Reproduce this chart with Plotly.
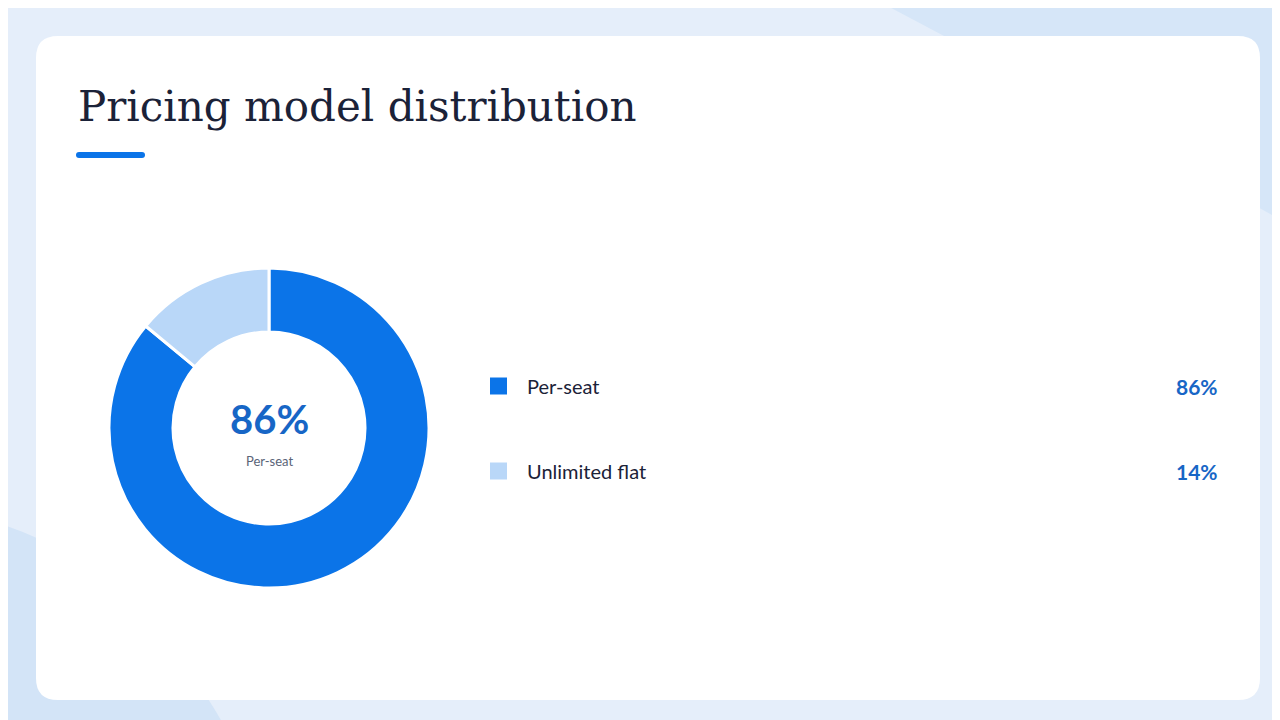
import plotly.graph_objects as go

labels = ["Per-seat", "Unlimited flat"]
values = [86, 14]
colors = ["#0b74e8", "#b9d7f8"]

W, H = 1280, 720

fig = go.Figure()
fig.add_trace(go.Pie(
    labels=labels, values=values, hole=0.6, sort=False, direction="clockwise",
    rotation=0, marker=dict(colors=colors, line=dict(color="white", width=3)),
    textinfo="none", hoverinfo="label+percent", showlegend=False,
    domain=dict(x=[101 / W, 421 / W], y=[140 / H, 460 / H]),
))


def px_x(x):
    return x / W


def px_y(y):
    return 1 - y / H


shapes = []
# background blobs
shapes.append(dict(type="path", xref="paper", yref="paper", layer="below",
                   path="M 0.69,1 L 1,1 L 1,0.7 Q 0.85,0.85 0.69,1 Z",
                   fillcolor="#d6e6f8", line_width=0))
shapes.append(dict(type="path", xref="paper", yref="paper", layer="below",
                   path="M 0,0.28 L 0,0 L 0.17,0 Q 0.1,0.22 0,0.28 Z",
                   fillcolor="#d3e4f7", line_width=0))
# card
r = 22
x0, y0, x1, y1 = 28, 28, 1252, 692
path = (f"M {x0 + r},{y0} L {x1 - r},{y0} Q {x1},{y0} {x1},{y0 + r} "
        f"L {x1},{y1 - r} Q {x1},{y1} {x1 - r},{y1} L {x0 + r},{y1} "
        f"Q {x0},{y1} {x0},{y1 - r} L {x0},{y0 + r} Q {x0},{y0} {x0 + r},{y0} Z")
shapes.append(dict(type="path", xref="x", yref="y", layer="below", path=path,
                   fillcolor="white", line_width=0))
# title underline
shapes.append(dict(type="path", xref="x", yref="y",
                   path="M 71,144 L 134,144 Q 137,144 137,147 Q 137,150 134,150 L 71,150 Q 68,150 68,147 Q 68,144 71,144 Z",
                   fillcolor="#0b74e8", line_width=0))

annotations = [
    dict(x=68, y=98, xref="x", yref="y", text="Pricing model distribution",
         showarrow=False, xanchor="left", yanchor="middle",
         font=dict(family="DejaVu Serif, Liberation Serif, serif", size=42, color="#1b2238")),
    dict(x=261, y=411, xref="x", yref="y", text="<b>86%</b>", showarrow=False,
         font=dict(family="Lato, Inter, sans-serif", size=40, color="#1766c6")),
    dict(x=261, y=453, xref="x", yref="y", text="Per-seat", showarrow=False,
         font=dict(family="Lato, Inter, sans-serif", size=13, color="#5a6478")),
]

for i, (lab, val, col) in enumerate(zip(labels, values, colors)):
    cy = 378 + i * 85
    shapes.append(dict(type="rect", xref="x", yref="y", x0=482, x1=499,
                       y0=cy - 8.5, y1=cy + 8.5, fillcolor=col, line_width=0))
    annotations.append(dict(x=517, y=cy, xref="x", yref="y", text=lab, showarrow=False,
                            xanchor="left", yanchor="middle",
                            font=dict(family="Lato, Inter, sans-serif", size=20, color="#1b2238")))
    annotations.append(dict(x=1212, y=cy, xref="x", yref="y", text=f"<b>{val}%</b>",
                            showarrow=False, xanchor="right", yanchor="middle",
                            font=dict(family="Lato, Inter, sans-serif", size=21, color="#1766c6")))

fig.update_layout(
    width=W, height=H, margin=dict(l=0, r=0, t=0, b=0),
    paper_bgcolor="#e5eefa", plot_bgcolor="rgba(0,0,0,0)",
    xaxis=dict(range=[0, W], visible=False, fixedrange=True),
    yaxis=dict(range=[H, 0], visible=False, fixedrange=True),
    shapes=shapes, annotations=annotations,
)

fig.write_html("out.html")
